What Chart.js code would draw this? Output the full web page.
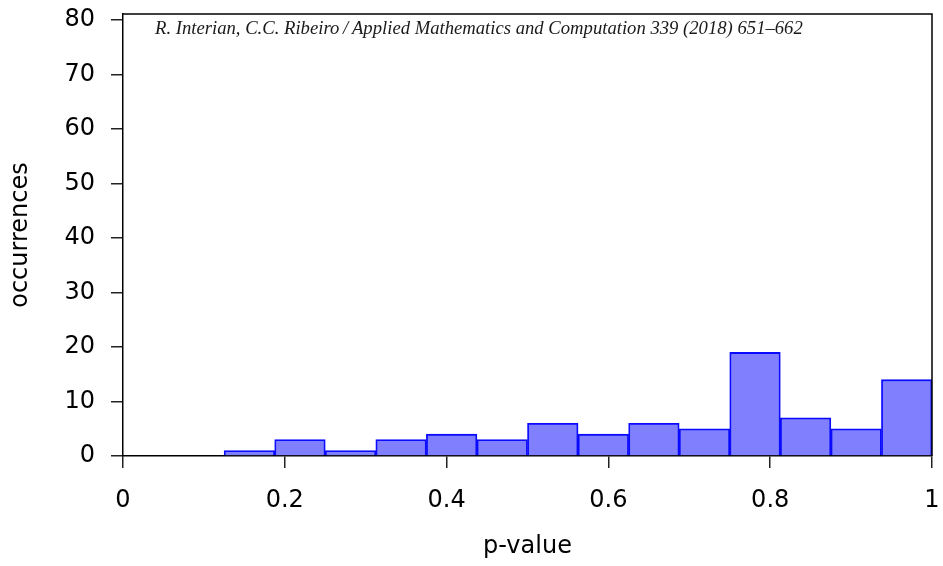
<!DOCTYPE html>
<html>
<head>
<meta charset="utf-8">
<script src="https://cdn.jsdelivr.net/npm/chart.js@4.4.1/dist/chart.umd.min.js"></script>
<style>
  html, body { margin: 0; padding: 0; background: #ffffff; }
  #wrap { width: 943px; height: 566px; position: relative; }
</style>
</head>
<body>
<div id="wrap"><canvas id="c" width="943" height="566"></canvas></div>
<script>
// Histogram bins (width 1/16) starting at 0.125
const binStarts = [0.125, 0.1875, 0.25, 0.3125, 0.375, 0.4375, 0.5, 0.5625, 0.625, 0.6875, 0.75, 0.8125, 0.875, 0.9375];
const binWidth = 0.0625;
const occurrences = [1, 3, 1, 3, 4, 3, 6, 4, 6, 5, 19, 7, 5, 14];
const xTicks = [0, 0.2, 0.4, 0.6, 0.8, 1];
const yTicks = [0, 10, 20, 30, 40, 50, 60, 70, 80];
const xTitle = 'p-value';
const yTitle = 'occurrences';
const caption = 'R. Interian, C.C. Ribeiro\u2009/\u2009Applied Mathematics and Computation 339 (2018) 651\u2013662';

const points = binStarts.map((s, i) => ({ x: s + binWidth / 2, y: occurrences[i] }));

const framePlugin = {
  id: 'frame',
  afterDraw(chart) {
    const { ctx, chartArea: a } = chart;
    ctx.save();
    ctx.strokeStyle = '#000';
    ctx.lineWidth = 1.5;
    ctx.beginPath();
    ctx.moveTo(a.left, a.top);
    ctx.lineTo(a.right, a.top);
    ctx.lineTo(a.right, a.bottom);
    ctx.stroke();
    // caption
    let size = 19;
    const fam = '"Liberation Serif", "Times New Roman", serif';
    ctx.font = 'italic ' + size + 'px ' + fam;
    const w = ctx.measureText(caption).width;
    size = size * 648 / w;
    ctx.font = 'italic ' + size.toFixed(2) + 'px ' + fam;
    ctx.fillStyle = '#1a1a1a';
    ctx.textBaseline = 'alphabetic';
    ctx.textAlign = 'left';
    ctx.fillText(caption, a.left + 32, a.top + 20);
    ctx.restore();
  }
};

const tickFont = { family: '"DejaVu Sans", Verdana, sans-serif', size: 24 };

new Chart(document.getElementById('c'), {
  type: 'bar',
  data: {
    datasets: [{
      data: points,
      backgroundColor: 'rgb(128,128,255)',
      borderColor: 'rgb(10,10,255)',
      borderWidth: 1.8,
      barPercentage: 1,
      categoryPercentage: 1,
      borderSkipped: 'bottom'
    }]
  },
  options: {
    responsive: false,
    animation: false,
    devicePixelRatio: 1,
    layout: { padding: { top: 14, right: 11, left: 0, bottom: 0 } },
    plugins: { legend: { display: false }, tooltip: { enabled: false } },
    scales: {
      x: {
        type: 'linear',
        min: 0, max: 1,
        offset: false,
        afterFit(s) { s.height = 110; s.paddingLeft = 0; s.paddingRight = 0; },
        afterBuildTicks(s) { s.ticks = xTicks.map(v => ({ value: v })); },
        grid: { display: true, drawOnChartArea: false, offset: false, tickLength: 12, color: '#222', lineWidth: 1.5 },
        border: { display: true, color: '#000', width: 1.5 },
        ticks: { color: '#000', font: tickFont, padding: 18, maxRotation: 0, autoSkip: false,
          callback: v => String(v) },
        title: { display: true, text: xTitle, color: '#000', font: tickFont, padding: { top: 0, bottom: 5 } }
      },
      y: {
        type: 'linear',
        min: 0, max: 81.1,
        afterFit(s) { s.width = 123; s.paddingTop = 0; s.paddingBottom = 0; },
        afterBuildTicks(s) { s.ticks = yTicks.map(v => ({ value: v })); },
        grid: { display: true, drawOnChartArea: false, tickLength: 12, color: '#222', lineWidth: 1.5 },
        border: { display: true, color: '#000', width: 1.5 },
        ticks: { color: '#000', font: tickFont, padding: 16, callback: v => String(v) },
        title: { display: true, text: yTitle, color: '#000', font: tickFont, padding: { top: 6, bottom: 0 } }
      }
    }
  },
  plugins: [framePlugin]
});
</script>
</body>
</html>
